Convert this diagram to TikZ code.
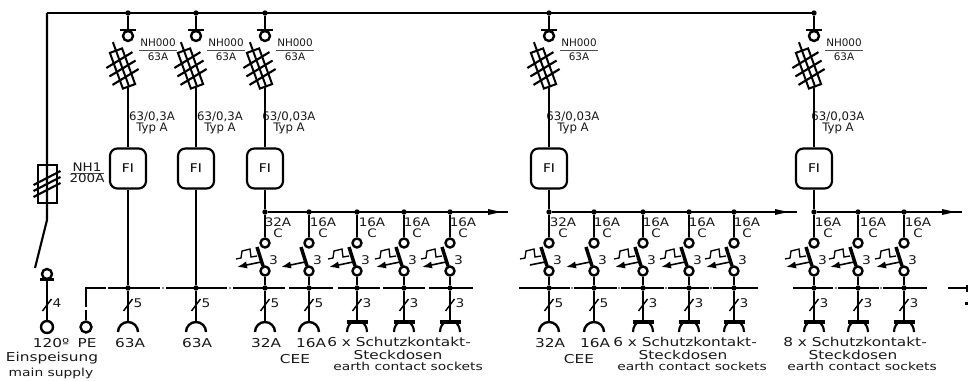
\documentclass[tikz,border=0pt]{standalone}
\usepackage{fontspec}
\usetikzlibrary{arrows.meta}
\setmainfont{DejaVu Sans}
\newfontfamily\fwide[FakeStretch=1.25]{DejaVu Sans}
\newfontfamily\fmid[FakeStretch=1.15]{DejaVu Sans}
\tikzset{
  x=0.75pt,y=-0.75pt,
  wire/.style={line width=1.8pt,black},
  busline/.style={line width=2pt,black},
  ring/.style={circle,draw=black,line width=1.8pt,inner sep=0pt,minimum size=#1*0.75pt,fill=white},
  ring/.default=9,
  dotj/.style={circle,fill=black,inner sep=0pt,minimum size=4pt},
  fibox/.style={draw=black,line width=1.6pt,rounded corners=5.5pt,minimum width=27pt,minimum height=30pt,inner sep=0pt,font=\fmid\fontsize{9}{10}\selectfont},
  lbltop/.style={text=black!90,inner sep=0pt,font=\fontsize{7.8}{9}\selectfont},
  lblnum/.style={text=black!90,inner sep=0pt,font=\fmid\fontsize{9}{10}\selectfont},
  lblmid/.style={text=black!90,inner sep=0pt,font=\fmid\fontsize{8.8}{10}\selectfont},
  lblrate/.style={text=black!90,inner sep=0pt,font=\fontsize{8.8}{10}\selectfont},
  lblbig/.style={text=black!90,inner sep=0pt,font=\fwide\fontsize{9.2}{11}\selectfont},
  lblsmall/.style={text=black!90,inner sep=0pt,font=\fwide\fontsize{8.3}{10}\selectfont},
}
\newcommand\feederhead[3]{% x, label offset, rating
  \node[dotj] (T#1) at (#1,13) {};
  \node[ring=10] (C#1) at (#1,36) {};
  \coordinate (Fb#1) at (#1,88);
  \draw[wire] (T#1) -- (#1,30);
  \draw[wire] (#1-8,30) -- (#1+8,30);
  \begin{scope}[shift={(#1-5.5,68.5)},rotate=20]
    \draw[wire,line width=1.5pt] (-6.5,-19) rectangle (6.5,19);
    \draw[wire,line width=1.5pt] (0,-28) -- (0,20);
    \foreach \yy in {-9,0,9}
      \draw[wire,line width=1.6pt] (-15,\yy+3) -- (15,\yy-3);
  \end{scope}
  \node[lbltop] (Nn#1) at (#1+30,42.5) {NH000};
  \node[lbltop] (Nr#1) at (#1+30,56.5) {63A};
  \draw[black!70,line width=0.7pt] (#1+11,50.5) -- (#1+49,50.5);
  \node[lblrate] (Ra#1) at (#1+#2,117) {#3};
  \node[lblrate] (Ty#1) at (#1+24,128.5) {Typ A};
  \node[fibox] (FI#1) at (#1,168.5) {FI};
  \draw[wire,line width=1.6pt] (Fb#1) -- (FI#1.north);
}
\newcommand\slashmark[2]{% x, number
  \draw[black,line width=1.1pt] (#1-4.5,311) -- (#1+4.5,299);
  \node[lblnum] (Sl#1) at (#1+10,303) {#2};
}
\newcommand\ceesocket[2]{% x, number
  \coordinate (So#1) at (#1,322);
  \draw[wire] (B#1) -- (So#1);
  \slashmark{#1}{#2}
  \draw[wire] (#1-10,332) .. controls (#1-10,326.5) and (#1-5.5,322) .. (So#1) .. controls (#1+5.5,322) and (#1+10,326.5) .. (#1+10,332);
}
\newcommand\schuko[1]{% x
  \coordinate (So#1) at (#1,322);
  \draw[wire] (B#1) -- (So#1);
  \slashmark{#1}{3}
  \draw[wire,line width=2.4pt] (#1-10.5,322) -- (#1+10.5,322);
  \draw[wire,line width=1.6pt] (#1-10,332) .. controls (#1-10,326.5) and (#1-7,323.5) .. (#1-5,322);
  \draw[wire,line width=1.6pt] (#1+10,332) .. controls (#1+10,326.5) and (#1+7,323.5) .. (#1+5,322);
}
\newcommand\breakerbody[1]{% x
  \node[dotj] (J#1) at (#1,212) {};
  \node[ring] (U#1) at (#1,243) {};
  \node[ring] (L#1) at (#1,271) {};
  \node[dotj] (B#1) at (#1,288) {};
  \draw[wire] (J#1) -- (U#1);
  \draw[wire] (L#1) -- (B#1);
  \draw[black,line width=2.6pt] (#1-8,247) -- (#1-2,266);
  \node[lblnum] (Tn#1) at (#1+8.5,260.5) {3};
}
\newcommand\thermal[1]{%
  \draw[black,line width=1pt] (#1-29,259) -- (#1-24,258) -- (#1-23,251) -- (#1-15,249) -- (#1-14,257) -- (#1-8,256);
}
\newcommand\tripper[1]{%
  \coordinate (Ts#1) at (#1-4,262);
  \coordinate (Te#1) at (#1-28,267);
  \draw[black,line width=1.2pt,-{Latex[length=7.5pt,width=5.5pt]}] (Ts#1) -- (Te#1);
}
\newcommand\rating[3]{% x, label centre, amps
  \node[lblmid] (Ia#1) at (#2,222) {#3};
  \node[lblmid] (Ic#1) at (#2,233.5) {C};
}
\newcommand\flowtip[3]{% junction, tip x, end x
  \coordinate (Ah#1) at (#2,212);
  \coordinate (Ae#1) at (#3,212);
  \draw[wire,line width=1.5pt] (J#1) -- (Ae#1);
  \fill[black] (Ah#1) -- (#2-13,209) -- (#2-13,215) -- cycle;
}
\begin{document}
\begin{tikzpicture}
\useasboundingbox (0,0) rectangle (968,381);
\fill[white] (0,0) rectangle (968,381);

% --- main supply
\coordinate (Corner) at (47,13);
\coordinate (Wb) at (47,220);
\coordinate (Bl) at (35,268);
\node[ring=10] (Inc) at (47,274) {};
\node[ring=12] (Sup) at (47,327) {};
\draw[wire] (Corner) -- (814,13);
\draw[wire,line width=1.6pt] (Corner) -- (Wb) -- (Bl);
\draw[wire,line width=1.6pt] (38,165) rectangle (57,203);
\foreach \yy in {178,184,190}
  \draw[wire,line width=1.6pt] (33.5,\yy+7) -- (60.5,\yy-7);
\draw[wire] (40,279.5) -- (54,279.5);
\draw[wire] (Inc) -- (Sup);
\draw[black,line width=1.1pt] (42.5,311) -- (51.5,299);
\node[lblnum] (N4) at (57,303) {4};
\node[lblbig] (T120) at (51,343) {120º};
\node[lblbig] (Tein) at (52,358.5) {Einspeisung};
\node[lblsmall] (Tmain) at (51,373) {main supply};
\node[lblmid] (NHa) at (87,167) {NH1};
\draw[black!70,line width=0.7pt] (71,173.5) -- (104,173.5);
\node[lblmid] (NHb) at (87,178.5) {200A};

% --- PE and N busbars
\node[ring=11] (PE) at (86,327) {};
\coordinate (PEc) at (86,288);
\draw[busline] (86,307) -- (PEc) -- (106,288);
\draw[busline] (86,310) -- (PE);
\foreach \a/\b in {108/160,166/227,233/285,289/333,338/380,383/425,429/473,
                   519/570,574/617,621/664,668/709,713/758,
                   793/833,838/879,883/927,948/968}
  \draw[busline] (\a,288) -- (\b,288);
\foreach \c in {163,230,572,619,666,711,835.5,881}
  \fill[black!45] (\c-1,287) rectangle (\c+1,289);
\node[lblbig] (TPE) at (87,343) {PE};

% --- plain 63A feeders
\feederhead{128}{24}{63/0,3A}
\feederhead{196}{24}{63/0,3A}
\foreach \f in {128,196}{
  \node[dotj] (B\f) at (\f,288) {};
  \draw[wire] (FI\f.south) -- (B\f);
  \ceesocket{\f}{5}
}
\node[lblbig] (T63a) at (130,343) {63A};
\node[lblbig] (T63b) at (197,343) {63A};

% --- distribution feeders
\feederhead{265}{24}{63/0,03A}
\feederhead{549}{24}{63/0,03A}
\feederhead{814}{24}{63/0,03A}
\foreach \f in {265,309,357,404,450,549,594,643,689,734,814,858,904}{
  \breakerbody{\f}
}
\draw[wire] (FI265.south) -- (J265);
\draw[wire] (FI549.south) -- (J549);
\draw[wire] (FI814.south) -- (J814);

\flowtip{265}{501}{508}
\flowtip{549}{788}{797}
\flowtip{814}{955}{962}

% breaker trips
\foreach \f in {265,357,404,450,549,643,689,734,814,858,904}{ \thermal{\f} }
\foreach \f in {265,309,357,404,450,594,643,689,734,814,858,904}{ \tripper{\f} }
\draw[black,line width=1.2pt] (545,262) -- (530,265);

\rating{265}{278}{32A}
\rating{309}{323}{16A}
\rating{357}{372}{16A}
\rating{404}{417}{16A}
\rating{450}{463}{16A}
\rating{549}{563}{32A}
\rating{594}{607}{16A}
\rating{643}{656}{16A}
\rating{689}{702}{16A}
\rating{734}{747}{16A}
\rating{814}{828}{16A}
\rating{858}{873}{16A}
\rating{904}{918}{16A}

% outlets
\foreach \f in {265,309,549,594}{ \ceesocket{\f}{5} }
\foreach \f in {357,404,450,643,689,734,814,858,904}{ \schuko{\f} }

% bottom texts, group 1
\node[lblbig] (G1a) at (266,343) {32A};
\node[lblbig] (G1b) at (311,343) {16A};
\node[lblbig] (G1c) at (295,359) {CEE};
\node[lblbig] (G1d) at (399,342) {6 x Schutzkontakt-};
\node[lblbig] (G1e) at (398,355) {Steckdosen};
\node[lblsmall] (G1f) at (408,366) {earth contact sockets};
% group 2
\node[lblbig] (G2a) at (550,343) {32A};
\node[lblbig] (G2b) at (595,343) {16A};
\node[lblbig] (G2c) at (579,359) {CEE};
\node[lblbig] (G2d) at (685,342) {6 x Schutzkontakt-};
\node[lblbig] (G2e) at (683,355) {Steckdosen};
\node[lblsmall] (G2f) at (692,366) {earth contact sockets};
% group 3
\node[lblbig] (G3d) at (855,342) {8 x Schutzkontakt-};
\node[lblbig] (G3e) at (853,355) {Steckdosen};
\node[lblsmall] (G3f) at (862,366) {earth contact sockets};

% cut-off outlet at the right edge
\coordinate (Ed) at (967,285);
\coordinate (Ee) at (967,292);
\draw[wire] (Ed) -- (Ee);
\fill[black] (965,302) rectangle (968,305);
\end{tikzpicture}
\end{document}
